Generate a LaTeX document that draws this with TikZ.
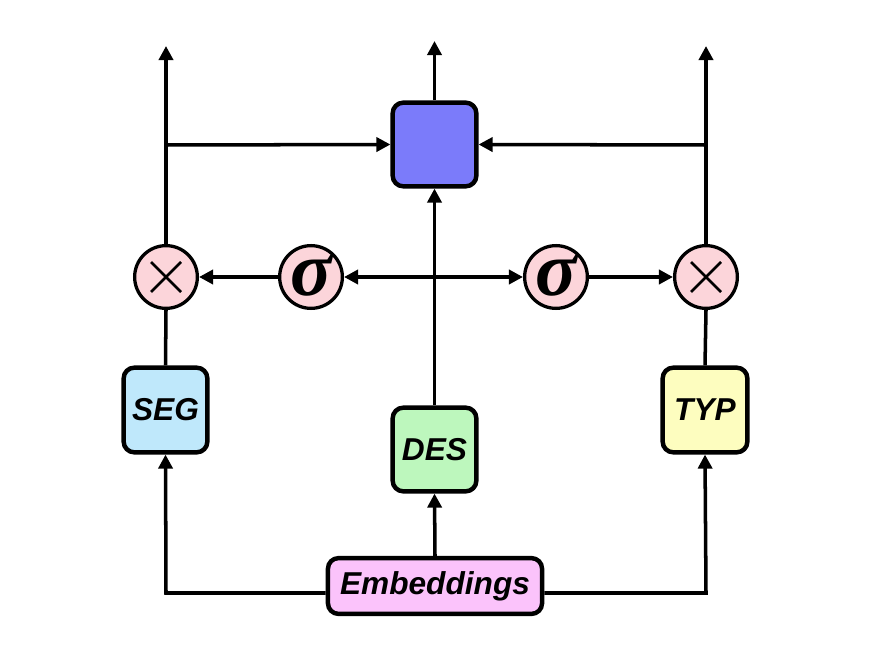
\documentclass[tikz,border=0pt]{standalone}
\usepackage{fontspec}
\setmainfont{Liberation Sans}
\newfontfamily\sigfont{Liberation Serif}
\usetikzlibrary{arrows.meta}
\definecolor{cblue}{HTML}{7B7BFA}
\definecolor{cseg}{HTML}{BFE8FB}
\definecolor{cdes}{HTML}{BDF7BD}
\definecolor{ctyp}{HTML}{FDFDBF}
\definecolor{cemb}{HTML}{FBC3FB}
\definecolor{cpink}{HTML}{FCD5DA}
\begin{document}
\begin{tikzpicture}[x=0.03cm,y=-0.03cm,
  box/.style={draw=black,line width=3.8pt,rounded corners=9pt,inner sep=0pt,
    font=\fontsize{27}{27}\selectfont\bfseries\itshape},
  circ/.style={draw=black,line width=2.8pt,circle,fill=cpink,minimum size=63*0.85pt,inner sep=0pt},
  conn/.style={line width=3pt},
  arr/.style={conn,-{Triangle[length=12pt,width=12pt]}},
  darr/.style={conn,{Triangle[length=12pt,width=12pt]}-{Triangle[length=12pt,width=12pt]}},
  xmark/.style={line width=2.2pt},
  sig/.style={font=\fontsize{66}{66}\selectfont\sigfont\bfseries\itshape}]
\useasboundingbox (0,0) rectangle (872,654);
\node[box,fill=cblue,minimum width=84*0.85pt,minimum height=84*0.85pt] (comb) at (434.5,144.5) {};
\node[box,fill=cseg,minimum width=84*0.85pt,minimum height=85*0.85pt] (seg) at (165.5,410) {SEG};
\node[box,fill=cdes,minimum width=84*0.85pt,minimum height=84*0.85pt] (des) at (434.5,449.5) {DES};
\node[box,fill=ctyp,minimum width=85*0.85pt,minimum height=85*0.85pt] (typ) at (705,410) {TYP};
\node[box,fill=cemb,minimum width=215*0.85pt,minimum height=56*0.85pt] (emb) at (435,586) {Embeddings};
\node[circ] (ml) at (166,277) {};
\node[circ] (mr) at (706,277) {};
\node[circ,sig] (sl) at (311,277) {};
\node[circ,sig] (sr) at (556,277) {};
\node[sig,inner sep=0pt] (slt) at (311,276) {σ};
\node[sig,inner sep=0pt] (srt) at (556,276) {σ};
% X marks
\draw[xmark] (151,262) -- (181,292) (151,292) -- (181,262);
\draw[xmark] (691,262) -- (721,292) (691,292) -- (721,262);
% coordinates
\coordinate (topl) at (166,46);
\coordinate (topc) at (434.5,41);
\coordinate (topr) at (706,46);
\coordinate (jl) at (166,145);
\coordinate (jr) at (706,145);
\coordinate (bl) at (166,593);
\coordinate (br) at (706,593);
% connectors
\draw[arr] (comb.north) -- (topc);
\draw[arr] (ml.north) -- (topl);
\draw[arr] (mr.north) -- (topr);
\draw[arr] (jl) -- (comb.west);
\draw[arr] (jr) -- (comb.east);
\draw[arr] (sl.west) -- (ml.east);
\draw[arr] (sr.east) -- (mr.west);
\draw[darr] (sl.east) -- (sr.west);
\draw[arr] (des.north) -- (comb.south);
\draw[conn] (seg.north) -- (ml.south);
\draw[conn] (typ.north) -- (mr.south);
\draw[arr] (emb.north) -- (des.south);
\draw[arr] (emb.west |- bl) -- (bl) -- (seg.south);
\draw[arr] (emb.east |- br) -- (br) -- (typ.south);
\end{tikzpicture}
\end{document}
